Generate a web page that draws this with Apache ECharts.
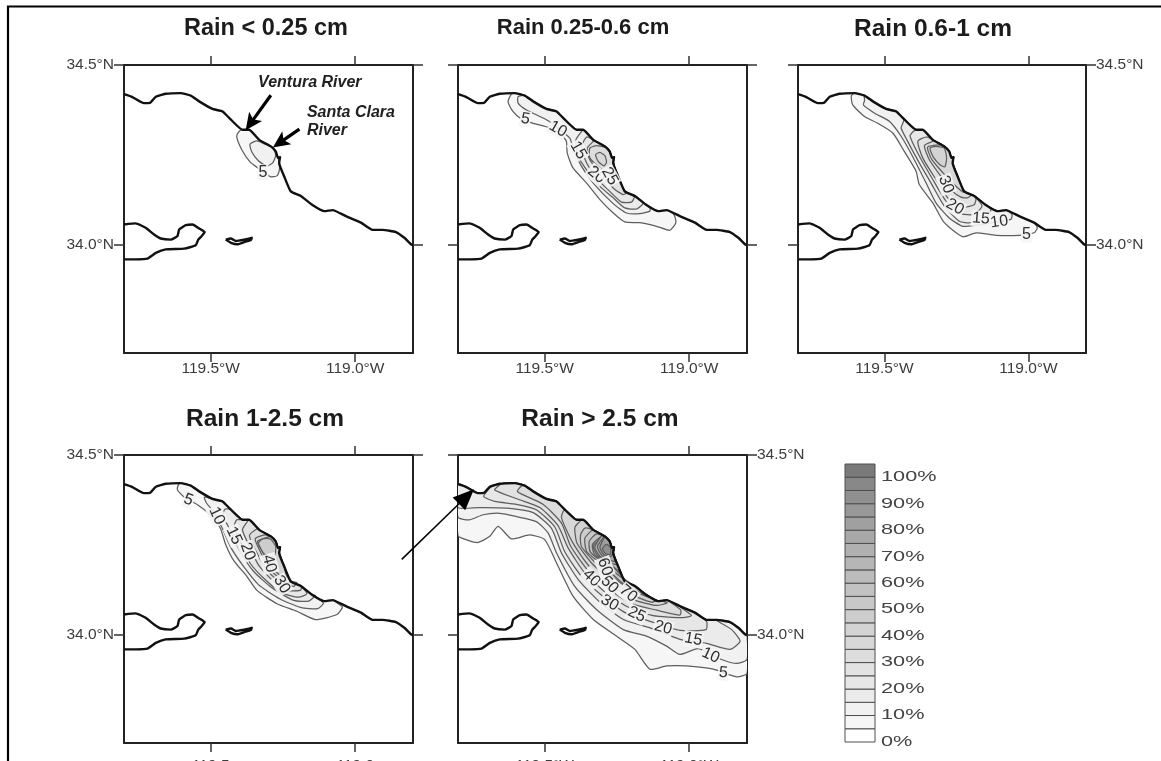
<!DOCTYPE html>
<html><head><meta charset="utf-8">
<style>html,body{margin:0;padding:0;background:#fff;overflow:hidden}#c{width:1161px;height:761px;filter:blur(0.45px)}</style>
<script src="https://cdn.jsdelivr.net/npm/echarts@6/dist/echarts.min.js"></script>
</head><body><div id="c"></div>
<script>
const lonTicks=[-119.5,-119.0];
const latTicks=[34.0,34.5];
const barColors=['#ffffff','#f6f6f6','#f1f1f1','#ebebeb','#e7e7e7','#e2e2e2','#dddddd','#d8d8d8','#d3d3d3','#cdcdcd','#c8c8c8','#c2c2c2','#bcbcbc','#b6b6b6','#b0b0b0','#a8a8a8','#a0a0a0','#989898','#909090','#888888','#7a7a7a'];
const barTicks=[0,10,20,30,40,50,60,70,80,90,100];

const coastline=[[-119.800,34.419],[-119.771,34.411],[-119.731,34.394],[-119.708,34.396],[-119.690,34.412],[-119.656,34.420],[-119.604,34.422],[-119.569,34.415],[-119.540,34.399],[-119.494,34.378],[-119.459,34.371],[-119.430,34.348],[-119.390,34.320],[-119.367,34.320],[-119.332,34.292],[-119.292,34.274],[-119.275,34.260],[-119.267,34.242],[-119.260,34.244],[-119.263,34.228],[-119.246,34.191],[-119.223,34.149],[-119.188,34.136],[-119.148,34.111],[-119.107,34.094],[-119.078,34.097],[-119.032,34.080],[-118.980,34.062],[-118.940,34.042],[-118.905,34.042],[-118.859,34.036],[-118.830,34.020],[-118.807,34.002],[-118.800,34.000]];
const santaCruz=[[-119.800,34.057],[-119.760,34.060],[-119.725,34.048],[-119.696,34.029],[-119.673,34.018],[-119.638,34.015],[-119.615,34.025],[-119.609,34.043],[-119.586,34.055],[-119.563,34.057],[-119.540,34.046],[-119.521,34.036],[-119.531,34.025],[-119.543,34.015],[-119.552,33.999],[-119.592,33.990],[-119.656,33.988],[-119.690,33.978],[-119.719,33.962],[-119.760,33.960],[-119.800,33.960]];
const anacapa=[[-119.448,34.015],[-119.430,34.018],[-119.413,34.011],[-119.384,34.015],[-119.358,34.020],[-119.361,34.014],[-119.384,34.008],[-119.407,34.002],[-119.430,34.006],[-119.448,34.015]];

const panel1Levels=[5,10];
const panel1Curves=[
[[-119.400,34.317],[-119.410,34.301],[-119.392,34.264],[-119.364,34.231],[-119.340,34.216],[-119.294,34.190],[-119.271,34.192],[-119.262,34.210]],
[[-119.364,34.280],[-119.358,34.259],[-119.335,34.234],[-119.306,34.219],[-119.285,34.229],[-119.275,34.250],[-119.285,34.271],[-119.312,34.280],[-119.340,34.289],[-119.364,34.280]]];
const panel1Labels=[[-119.319,34.202,'5',0]];

const panel2Levels=[5,10,15,20,25,30,35];
const panel2Curves=[
[[-119.615,34.420],[-119.627,34.398],[-119.610,34.371],[-119.581,34.350],[-119.540,34.338],[-119.482,34.325],[-119.442,34.306],[-119.425,34.288],[-119.422,34.255],[-119.402,34.214],[-119.355,34.172],[-119.309,34.126],[-119.263,34.089],[-119.223,34.064],[-119.171,34.062],[-119.113,34.052],[-119.067,34.041],[-119.046,34.062],[-119.053,34.085]],
[[-119.592,34.412],[-119.592,34.394],[-119.563,34.375],[-119.494,34.348],[-119.454,34.325],[-119.413,34.297],[-119.402,34.269],[-119.373,34.219],[-119.332,34.172],[-119.263,34.115],[-119.217,34.089],[-119.171,34.087],[-119.136,34.094],[-119.136,34.103]],
[[-119.373,34.315],[-119.392,34.292],[-119.384,34.246],[-119.355,34.209],[-119.309,34.163],[-119.263,34.131],[-119.223,34.103],[-119.182,34.100],[-119.159,34.117]],
[[-119.355,34.300],[-119.373,34.272],[-119.355,34.228],[-119.321,34.186],[-119.275,34.149],[-119.234,34.119],[-119.200,34.119],[-119.190,34.134]],
[[-119.332,34.288],[-119.353,34.269],[-119.344,34.237],[-119.304,34.195],[-119.257,34.154],[-119.228,34.140],[-119.217,34.145]],
[[-119.344,34.269],[-119.344,34.242],[-119.309,34.214],[-119.275,34.195],[-119.257,34.200],[-119.265,34.242],[-119.286,34.269],[-119.321,34.276],[-119.344,34.269]],
[[-119.324,34.251],[-119.315,34.232],[-119.295,34.220],[-119.286,34.230],[-119.292,34.248],[-119.309,34.257],[-119.324,34.251]]];
const panel2Labels=[[-119.567,34.350,'5',-10],[-119.454,34.322,'10',-30],[-119.384,34.263,'15',-60],[-119.321,34.195,'20',-40],[-119.275,34.191,'25',-60]];

const panel3Levels=[5,10,15,20,25,30,35,40];
const panel3Curves=[
[[-119.615,34.414],[-119.610,34.389],[-119.569,34.357],[-119.523,34.338],[-119.471,34.311],[-119.431,34.260],[-119.390,34.205],[-119.379,34.168],[-119.332,34.117],[-119.292,34.062],[-119.228,34.023],[-119.182,34.034],[-119.113,34.027],[-119.032,34.027],[-118.980,34.034],[-118.969,34.048]],
[[-119.569,34.401],[-119.573,34.389],[-119.534,34.366],[-119.482,34.343],[-119.442,34.302],[-119.402,34.246],[-119.355,34.172],[-119.321,34.117],[-119.275,34.075],[-119.228,34.052],[-119.182,34.055],[-119.125,34.062],[-119.061,34.071],[-119.057,34.085]],
[[-119.436,34.338],[-119.442,34.325],[-119.422,34.292],[-119.379,34.228],[-119.338,34.172],[-119.292,34.108],[-119.240,34.066],[-119.200,34.062],[-119.142,34.080],[-119.130,34.099]],
[[-119.396,34.318],[-119.411,34.303],[-119.384,34.255],[-119.332,34.182],[-119.286,34.122],[-119.234,34.087],[-119.188,34.085],[-119.161,34.108]],
[[-119.355,34.300],[-119.384,34.288],[-119.367,34.242],[-119.321,34.182],[-119.275,34.126],[-119.223,34.106],[-119.188,34.112],[-119.182,34.128]],
[[-119.332,34.288],[-119.361,34.276],[-119.344,34.237],[-119.304,34.191],[-119.263,34.149],[-119.234,34.133],[-119.211,34.131],[-119.197,34.140]],
[[-119.304,34.278],[-119.350,34.272],[-119.335,34.237],[-119.286,34.191],[-119.246,34.159],[-119.226,34.147]],
[[-119.342,34.269],[-119.330,34.244],[-119.307,34.223],[-119.290,34.217],[-119.284,34.242],[-119.292,34.269],[-119.321,34.274],[-119.342,34.269]]];
const panel3Labels=[[-119.286,34.168,'30',-70],[-119.255,34.106,'20',-30],[-119.165,34.073,'15',-5],[-119.101,34.064,'10',8],[-119.007,34.029,'5',0]];

const panel4Levels=[5,10,15,20,25,30,35,40,45];
const panel4Curves=[
[[-119.612,34.417],[-119.615,34.403],[-119.592,34.383],[-119.546,34.362],[-119.502,34.334],[-119.467,34.297],[-119.448,34.251],[-119.419,34.205],[-119.375,34.163],[-119.340,34.124],[-119.271,34.087],[-119.202,34.066],[-119.138,34.043],[-119.063,34.057],[-119.044,34.077],[-119.052,34.083]],
[[-119.522,34.383],[-119.514,34.366],[-119.491,34.343],[-119.462,34.300],[-119.431,34.244],[-119.387,34.191],[-119.335,34.140],[-119.260,34.100],[-119.190,34.077],[-119.130,34.073],[-119.110,34.089]],
[[-119.450,34.350],[-119.458,34.334],[-119.431,34.288],[-119.398,34.232],[-119.352,34.177],[-119.288,34.131],[-119.213,34.096],[-119.161,34.094],[-119.138,34.110]],
[[-119.410,34.320],[-119.419,34.300],[-119.392,34.251],[-119.364,34.200],[-119.312,34.154],[-119.254,34.117],[-119.196,34.105],[-119.167,34.115]],
[[-119.375,34.313],[-119.390,34.292],[-119.366,34.246],[-119.335,34.195],[-119.283,34.149],[-119.237,34.124],[-119.190,34.124],[-119.185,34.135]],
[[-119.335,34.297],[-119.366,34.276],[-119.340,34.228],[-119.306,34.180],[-119.257,34.145],[-119.213,34.135],[-119.202,34.146]],
[[-119.312,34.278],[-119.346,34.267],[-119.323,34.223],[-119.288,34.177],[-119.248,34.149],[-119.227,34.146]],
[[-119.294,34.274],[-119.338,34.260],[-119.312,34.219],[-119.275,34.177],[-119.237,34.149]],
[[-119.335,34.255],[-119.312,34.223],[-119.280,34.219],[-119.275,34.246],[-119.294,34.267],[-119.320,34.267],[-119.335,34.255]]];
const panel4Labels=[[-119.577,34.375,'5',-20],[-119.479,34.331,'10',-65],[-119.419,34.276,'15',-65],[-119.372,34.232,'20',-70],[-119.297,34.198,'40',-75],[-119.254,34.140,'30',-60]];

const panel5Levels=[5,10,15,20,25,30,35,40,45,50,55,60,65,70,75,80,90];
const panel5Curves=[
[[-119.800,34.276],[-119.765,34.263],[-119.731,34.257],[-119.690,34.274],[-119.661,34.302],[-119.615,34.267],[-119.552,34.278],[-119.500,34.265],[-119.459,34.200],[-119.402,34.108],[-119.332,34.043],[-119.252,33.997],[-119.188,33.960],[-119.136,33.905],[-119.078,33.914],[-119.009,33.914],[-118.917,33.905],[-118.836,33.884],[-118.800,33.893]],
[[-119.800,34.327],[-119.760,34.320],[-119.713,34.334],[-119.656,34.338],[-119.598,34.329],[-119.529,34.315],[-119.488,34.283],[-119.459,34.228],[-119.396,34.135],[-119.321,34.071],[-119.228,34.015],[-119.148,33.997],[-119.078,33.969],[-119.032,33.946],[-118.969,33.962],[-118.888,33.932],[-118.836,33.921],[-118.800,33.932]],
[[-119.800,34.354],[-119.725,34.354],[-119.621,34.352],[-119.540,34.340],[-119.477,34.297],[-119.442,34.228],[-119.384,34.154],[-119.309,34.091],[-119.228,34.043],[-119.136,34.020],[-119.032,33.988],[-118.940,33.977],[-118.859,33.960],[-118.824,33.983],[-118.853,34.015],[-118.905,34.040]],
[[-119.685,34.412],[-119.711,34.385],[-119.673,34.371],[-119.598,34.363],[-119.529,34.348],[-119.465,34.300],[-119.431,34.232],[-119.373,34.163],[-119.292,34.103],[-119.217,34.060],[-119.136,34.038],[-119.032,34.013],[-118.942,34.015],[-118.940,34.038],[-118.986,34.063]],
[[-119.656,34.417],[-119.673,34.403],[-119.592,34.377],[-119.517,34.354],[-119.454,34.304],[-119.419,34.242],[-119.361,34.172],[-119.280,34.112],[-119.205,34.075],[-119.125,34.054],[-119.021,34.048],[-118.992,34.054],[-119.026,34.075]],
[[-119.581,34.414],[-119.594,34.398],[-119.506,34.363],[-119.442,34.311],[-119.411,34.248],[-119.353,34.182],[-119.272,34.124],[-119.200,34.087],[-119.113,34.069],[-119.032,34.055],[-119.029,34.069],[-119.061,34.089]],
[[-119.436,34.343],[-119.442,34.327],[-119.428,34.297],[-119.399,34.251],[-119.344,34.189],[-119.263,34.133],[-119.188,34.097],[-119.113,34.082],[-119.076,34.089],[-119.101,34.096]],
[[-119.384,34.311],[-119.396,34.297],[-119.388,34.255],[-119.332,34.195],[-119.252,34.140],[-119.182,34.106],[-119.130,34.091],[-119.113,34.097]],
[[-119.361,34.297],[-119.376,34.278],[-119.373,34.246],[-119.321,34.198],[-119.240,34.146],[-119.171,34.115],[-119.127,34.102]],
[[-119.338,34.290],[-119.361,34.269],[-119.355,34.232],[-119.307,34.200],[-119.228,34.142],[-119.161,34.115],[-119.148,34.111]],
[[-119.321,34.281],[-119.346,34.260],[-119.342,34.230],[-119.292,34.198],[-119.240,34.163],[-119.188,34.136]],
[[-119.304,34.274],[-119.335,34.251],[-119.327,34.223],[-119.280,34.198],[-119.252,34.180],[-119.217,34.149]],
[[-119.296,34.272],[-119.332,34.248],[-119.318,34.222],[-119.278,34.199],[-119.235,34.172]],
[[-119.300,34.278],[-119.327,34.244],[-119.309,34.219],[-119.275,34.200],[-119.250,34.197]],
[[-119.296,34.272],[-119.318,34.245],[-119.302,34.221],[-119.275,34.208],[-119.256,34.205]],
[[-119.290,34.272],[-119.309,34.244],[-119.295,34.223],[-119.272,34.218],[-119.262,34.228]],
[[-119.300,34.240],[-119.289,34.226],[-119.272,34.224],[-119.273,34.243],[-119.287,34.252],[-119.300,34.240]]];
const panel5Labels=[[-118.882,33.895,'5',-5],[-118.926,33.943,'10',-25],[-118.986,33.988,'15',-10],[-119.090,34.020,'20',-15],[-119.182,34.057,'25',-25],[-119.275,34.089,'30',-30],[-119.338,34.158,'40',-45],[-119.275,34.140,'50',-45],[-119.292,34.189,'60',-70],[-119.211,34.115,'70',-40]];

const panelTitles=['Rain < 0.25 cm','Rain 0.25-0.6 cm','Rain 0.6-1 cm','Rain 1-2.5 cm','Rain > 2.5 cm'];
const riverNotes=[[-119.336,34.450,'Ventura River'],[-119.167,34.369,'Santa Clara'],[-119.167,34.317,'River']];
const riverArrows=[[-119.292,34.416,-119.379,34.319],[-119.193,34.322,-119.285,34.271]];
const linkArrow=[[-118.839,34.210,-118.589,34.405]];

const panels=[
 {left:124,top:65,w:289,ct:266,tt:17,ts:23.5,levels:panel1Levels,curves:panel1Curves,labels:panel1Labels,lat:'left',lonFmt:'°W',gap:8},
 {left:458,top:65,w:289,ct:583,tt:17,ts:22,levels:panel2Levels,curves:panel2Curves,labels:panel2Labels,lat:null,lonFmt:'°W',gap:8},
 {left:798,top:65,w:288,ct:933,tt:17,ts:24.5,levels:panel3Levels,curves:panel3Curves,labels:panel3Labels,lat:'right',lonFmt:'°W',gap:8},
 {left:124,top:455,w:289,ct:265,tt:407,ts:24.5,levels:panel4Levels,curves:panel4Curves,labels:panel4Labels,lat:'left',lonFmt:'',gap:15},
 {left:458,top:455,w:289,ct:600,tt:407,ts:24.5,levels:panel5Levels,curves:panel5Curves,labels:panel5Labels,lat:'right',lonFmt:'°W',gap:15}];

const axisLine={show:true,onZero:false,lineStyle:{color:'#222',width:2}};
const tick={show:true,length:9,inside:false,lineStyle:{color:'#333',width:1.5},customValues:null};
const textFont={color:'#3c3c3c',fontFamily:'Liberation Sans',fontSize:15.5};

function closeCurve(c){
  const a=c[0],b=c[c.length-1];
  if(a[0]===b[0]&&a[1]===b[1])return c.slice(0,-1);
  const lo=Math.min(a[0],b[0]),hi=Math.max(a[0],b[0]);
  const side=coastline.filter(p=>p[0]>=lo&&p[0]<=hi).reverse();
  return c.concat(side);
}

const grid=[],xAxis=[],yAxis=[],series=[],title=[];
panels.forEach((p,i)=>{
  grid.push({left:p.left,top:p.top,width:p.w,height:288,outerBoundsMode:'none',containLabel:false});
  title.push({text:panelTitles[i],left:p.ct,top:p.tt,padding:0,textAlign:'center',textStyle:{fontFamily:'Liberation Sans',fontWeight:'bold',fontSize:p.ts,color:'#1c1c1c'}});
  const xi=xAxis.length,yi=yAxis.length;
  const base={gridIndex:i,min:-119.8,max:-118.8,type:'value',splitLine:{show:false},axisLine};
  xAxis.push(Object.assign({},base,{position:'bottom',axisTick:Object.assign({},tick,{customValues:lonTicks}),
    axisLabel:Object.assign({show:true,margin:p.gap,customValues:lonTicks,formatter:v=>Math.abs(v).toFixed(1)+p.lonFmt},textFont)}));
  xAxis.push(Object.assign({},base,{position:'top',axisTick:Object.assign({},tick,{customValues:lonTicks}),axisLabel:{show:false}}));
  const ybase={gridIndex:i,min:33.7,max:34.5,type:'value',splitLine:{show:false},axisLine};
  ['left','right'].forEach(side=>{
    yAxis.push(Object.assign({},ybase,{position:side,axisTick:Object.assign({},tick,{length:10,customValues:latTicks}),
      axisLabel:p.lat===side?Object.assign({show:true,margin:10,customValues:latTicks,formatter:v=>v.toFixed(1)+'°N'},textFont):{show:false}}));
  });
  const closed=p.curves.map(closeCurve);
  series.push({type:'custom',name:'contours'+(i+1),xAxisIndex:xi,yAxisIndex:yi,clip:true,z:2,silent:true,
    data:p.curves.map((c,k)=>[c[0][0],c[0][1],p.levels[k]]),encode:{x:0,y:1},
    renderItem:(params,api)=>({type:'polygon',shape:{points:closed[params.dataIndex].map(q=>api.coord(q)),smooth:0.2},
      style:{fill:barColors[p.levels[params.dataIndex]/5],stroke:'#5e5e5e',lineWidth:1.25}})});
  [coastline,santaCruz,anacapa].forEach((d,k)=>series.push({type:'line',name:['coast','santaCruz','anacapa'][k]+(i+1),xAxisIndex:xi,yAxisIndex:yi,z:3,silent:true,
    data:d,showSymbol:false,symbol:'none',smooth:0.15,lineStyle:{color:'#111',width:2.4,join:'round'}}));
  series.push({type:'custom',name:'labels'+(i+1),xAxisIndex:xi,yAxisIndex:yi,z:4,silent:true,clip:true,
    data:p.labels.map(l=>[l[0],l[1]]),encode:{x:0,y:1},
    renderItem:(params,api)=>{const l=p.labels[params.dataIndex],c=api.coord([l[0],l[1]]);
      return {type:'text',x:c[0],y:c[1],rotation:l[3]*Math.PI/180,style:{text:l[2],font:'16px "Liberation Sans"',fill:'#2e2e2e',align:'center',verticalAlign:'middle',backgroundColor:'rgba(245,245,245,0.9)',padding:[0,1]}};}});
});

function arrowShape(api,a,headLen,headHalf,notch,lw){
  const s=api.coord([a[0],a[1]]),t=api.coord([a[2],a[3]]);
  const ang=Math.atan2(t[1]-s[1],t[0]-s[0]),cs=Math.cos(ang),sn=Math.sin(ang);
  const at=(d,o)=>[t[0]-cs*d-sn*o,t[1]-sn*d+cs*o];
  return {type:'group',children:[
    {type:'line',shape:{x1:s[0],y1:s[1],x2:at(headLen*0.6,0)[0],y2:at(headLen*0.6,0)[1]},style:{stroke:'#000',lineWidth:lw}},
    {type:'polygon',shape:{points:[t,at(headLen,headHalf),at(notch,0),at(headLen,-headHalf)]},style:{fill:'#000'}}]};
}
series.push({type:'custom',name:'riverArrows',xAxisIndex:0,yAxisIndex:0,z:6,silent:true,data:riverArrows.map(a=>[a[0],a[1]]),encode:{x:0,y:1},
  renderItem:(params,api)=>arrowShape(api,riverArrows[params.dataIndex],17,8,13,3.2)});
series.push({type:'custom',name:'riverNotes',xAxisIndex:0,yAxisIndex:0,z:6,silent:true,data:riverNotes.map(a=>[a[0],a[1]]),encode:{x:0,y:1},
  renderItem:(params,api)=>{const n=riverNotes[params.dataIndex],c=api.coord([n[0],n[1]]);
    return {type:'text',x:c[0],y:c[1],style:{text:n[2],font:'italic bold 16px "Liberation Sans"',fill:'#222',align:'left',verticalAlign:'middle'}};}});
series.push({type:'custom',name:'linkArrow',xAxisIndex:6,yAxisIndex:6,z:20,clip:false,silent:true,data:linkArrow.map(a=>[a[0],a[1]]),encode:{x:0,y:1},
  renderItem:(params,api)=>arrowShape(api,linkArrow[params.dataIndex],21,9,21,1.5)});

grid.push({left:845,top:464,width:30,height:278,outerBoundsMode:'none'});
xAxis.push({gridIndex:5,type:'value',min:0,max:1,show:false});
yAxis.push({gridIndex:5,type:'value',min:0,max:105,show:false});
const bx=xAxis.length-1,by=yAxis.length-1;
series.push({type:'custom',name:'scale',xAxisIndex:bx,yAxisIndex:by,silent:true,data:barColors.map((c,k)=>[0,k*5]),encode:{x:0,y:1},
  renderItem:(params,api)=>{const k=params.dataIndex,a=api.coord([0,k*5]),b=api.coord([1,k*5+5]);
    return {type:'rect',shape:{x:a[0],y:b[1],width:b[0]-a[0],height:a[1]-b[1]},style:{fill:barColors[k],stroke:'#4e4e4e',lineWidth:1}};}});
series.push({type:'custom',name:'scaleLabels',xAxisIndex:bx,yAxisIndex:by,silent:true,clip:false,data:barTicks.map(v=>[1,v]),encode:{x:0,y:1},
  renderItem:(params,api)=>{const v=barTicks[params.dataIndex],c=api.coord([1,v]);
    return {type:'text',x:c[0]+6,y:c[1],scaleX:1.55,style:{text:v+'%',font:'14px "Liberation Sans"',fill:'#444',align:'left',verticalAlign:'middle'}};}});

const chart=echarts.init(document.getElementById('c'),null,{renderer:'canvas'});
chart.setOption({animation:false,backgroundColor:'#fff',title,grid,xAxis,yAxis,series,
  graphic:[{type:'polyline',silent:true,z:30,shape:{points:[[8,761],[8,6.5],[1161,6.5]]},style:{fill:null,stroke:'#000',lineWidth:2.2}}]});
</script></body></html>
